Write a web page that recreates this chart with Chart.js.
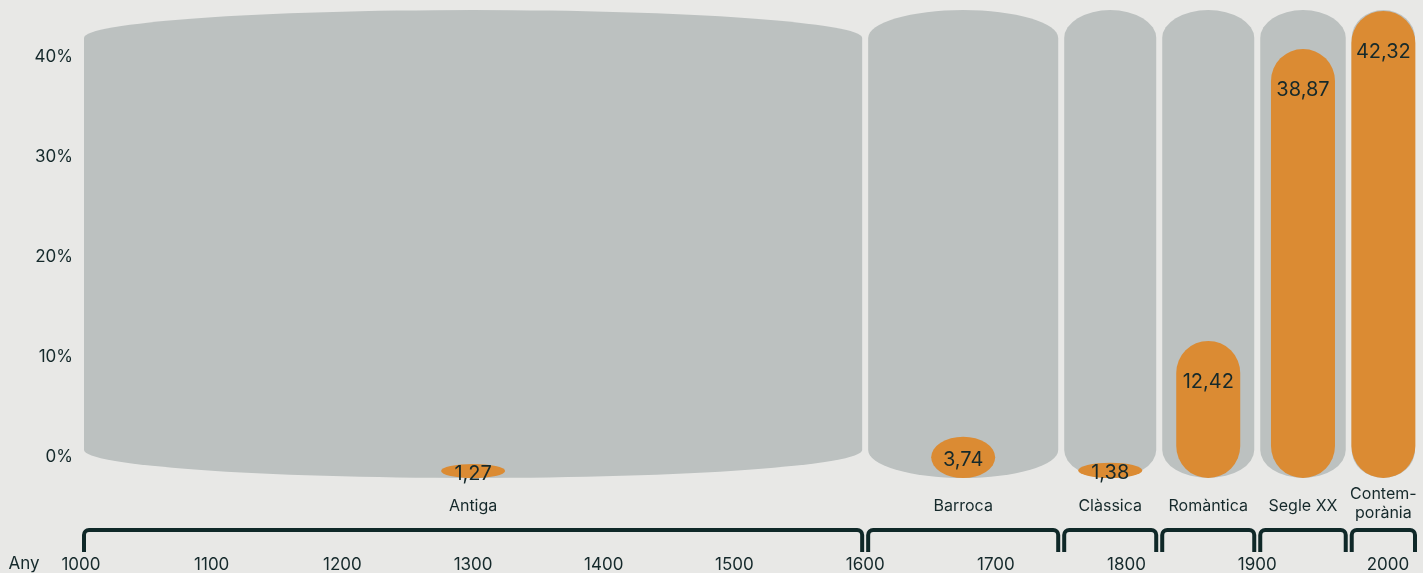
<!DOCTYPE html>
<html lang="ca">
<head>
<meta charset="utf-8">
<script src="https://cdn.jsdelivr.net/npm/chart.js@4"></script>
<style>
  html, body { margin: 0; padding: 0; background: #e8e8e6; }
  #wrap { width: 1423px; height: 573px; }
</style>
</head>
<body>
<div id="wrap"><canvas id="chart"></canvas></div>
<script>
// periods of music history and share of works (%)
const periods = ['Antiga', 'Barroca', 'Clàssica', 'Romàntica', 'Segle XX', 'Contem-\nporània'];
const periodStart = [1000, 1600, 1750, 1825, 1900, 1970];
const periodEnd = [1600, 1750, 1825, 1900, 1970, 2023];
const shares = [1.27, 3.74, 1.38, 12.42, 38.87, 42.32];
const yTicks = [0, 10, 20, 30, 40];
const yearTicks = [1000, 1100, 1200, 1300, 1400, 1500, 1600, 1700, 1800, 1900, 2000];

const GRAY = '#bcc1c0';
const ORANGE = '#db8b33';
const INK = '#15292b';

Chart.defaults.font.family = 'Inter';
Chart.defaults.color = INK;

const capsule = (ctx, x0, x1, top, bottom, ryMax) => {
    const rx = (x1 - x0) / 2, cx = (x0 + x1) / 2;
    const ry = Math.min(ryMax, (bottom - top) / 2);
    ctx.beginPath();
    ctx.ellipse(cx, top + ry, rx, ry, 0, Math.PI, 2 * Math.PI);
    ctx.lineTo(x1, bottom - ry);
    ctx.ellipse(cx, bottom - ry, rx, ry, 0, 0, Math.PI);
    ctx.closePath();
    ctx.fill();
}

const noPad = s => { s.paddingTop = 0; s.paddingBottom = 0; s.paddingLeft = 0; s.paddingRight = 0; };

const periodPlugin = {
    id: 'periods',
    beforeDatasetsDraw(chart) {
        const {ctx, chartArea, scales: {x}} = chart;
        ctx.save();
        ctx.fillStyle = GRAY;
        periods.forEach((p, i) => {
            const x0 = x.getPixelForValue(periodStart[i]) + 3;
            const x1 = x.getPixelForValue(periodEnd[i]) - 3;
            capsule(ctx, x0, x1, chartArea.top, chartArea.bottom, 28);
        });
        ctx.restore();
    },
    afterDatasetsDraw(chart) {
        const {ctx, chartArea, scales: {x}} = chart;
        const bars = chart.getDatasetMeta(0).data;
        ctx.save();

        // orange capsules + values
        bars.forEach((bar, i) => {
            const half = bar.width / 2;
            ctx.fillStyle = ORANGE;
            capsule(ctx, bar.x - half, bar.x + half, bar.y, bar.base, 32);
            const mid = (bar.y + bar.base) / 2 + 3;
            const ly = Math.min(bar.y + 41, mid);
            ctx.fillStyle = INK;
            ctx.font = '20px Inter';
            ctx.textAlign = 'center';
            ctx.textBaseline = 'middle';
            ctx.fillText(shares[i].toFixed(2).replace('.', ','), bar.x, ly);
        });

        // brackets and period names
        const lineY = chartArea.bottom + 52;
        const legY = chartArea.bottom + 74;
        ctx.strokeStyle = '#0f2828';
        ctx.lineWidth = 4;
        periods.forEach((p, i) => {
            const x0 = x.getPixelForValue(periodStart[i]) + 3;
            const x1 = x.getPixelForValue(periodEnd[i]) - 3;
            const r = 5;
            ctx.beginPath();
            ctx.moveTo(x0, legY);
            ctx.lineTo(x0, lineY + r);
            ctx.arcTo(x0, lineY, x0 + r, lineY, r);
            ctx.lineTo(x1 - r, lineY);
            ctx.arcTo(x1, lineY, x1, lineY + r, r);
            ctx.lineTo(x1, legY);
            ctx.stroke();

            const cx = (x0 + x1) / 2;
            const lines = p.split('\n');
            ctx.fillStyle = INK;
            ctx.font = '16px Inter';
            ctx.textAlign = 'center';
            ctx.textBaseline = 'middle';
            if (lines.length === 1) {
                ctx.fillText(lines[0], cx, chartArea.bottom + 28);
            } else {
                ctx.fillText(lines[0], cx, chartArea.bottom + 16);
                ctx.fillText(lines[1], cx, chartArea.bottom + 35);
            }
        });

        // axis title
        ctx.font = '17px Inter';
        ctx.textAlign = 'center';
        ctx.fillText('Any', 24, chartArea.bottom + 86);
        ctx.restore();
    }
};

const config = {
    type: 'bar',
    data: {
        datasets: [{
            label: 'Obres',
            data: shares.map((v, i) => ({x: (periodStart[i] + periodEnd[i]) / 2, y: v})),
            yAxisID: 'y2',
            backgroundColor: 'rgba(0,0,0,0)',
            barThickness: 64,
        }]
    },
    options: {
        responsive: true,
        maintainAspectRatio: false,
        animation: false,
        layout: { padding: { top: 10, right: 5, left: 0, bottom: 0 } },
        plugins: {
            legend: { display: false },
            tooltip: { enabled: false },
        },
        scales: {
            x: {
                type: 'linear',
                offset: false,
                min: 1000,
                max: 2023,
                grid: { display: false },
                border: { display: false },
                afterBuildTicks: s => { s.ticks = yearTicks.map(v => ({value: v})); },
                afterFit: s => { s.height = 95; noPad(s); },
                ticks: {
                    padding: 69,
                    font: { size: 17 },
                    color: INK,
                    maxRotation: 0,
                    autoSkip: false,
                    callback: v => String(v),
                },
            },
            y: {
                min: -2.1,
                max: 44.7,
                grid: { display: false, drawTicks: false },
                border: { display: false },
                afterBuildTicks: s => { s.ticks = yTicks.map(v => ({value: v})); },
                afterFit: s => { s.width = 81; noPad(s); },
                ticks: {
                    padding: 8,
                    font: { size: 17 },
                    color: INK,
                    callback: v => v + '%',
                },
            },
            y2: {
                display: false,
                min: 0,
                max: 42.4,
            },
        },
    },
    plugins: [periodPlugin],
};

const myChart = new Chart(document.getElementById('chart'), config);
</script>
</body>
</html>
